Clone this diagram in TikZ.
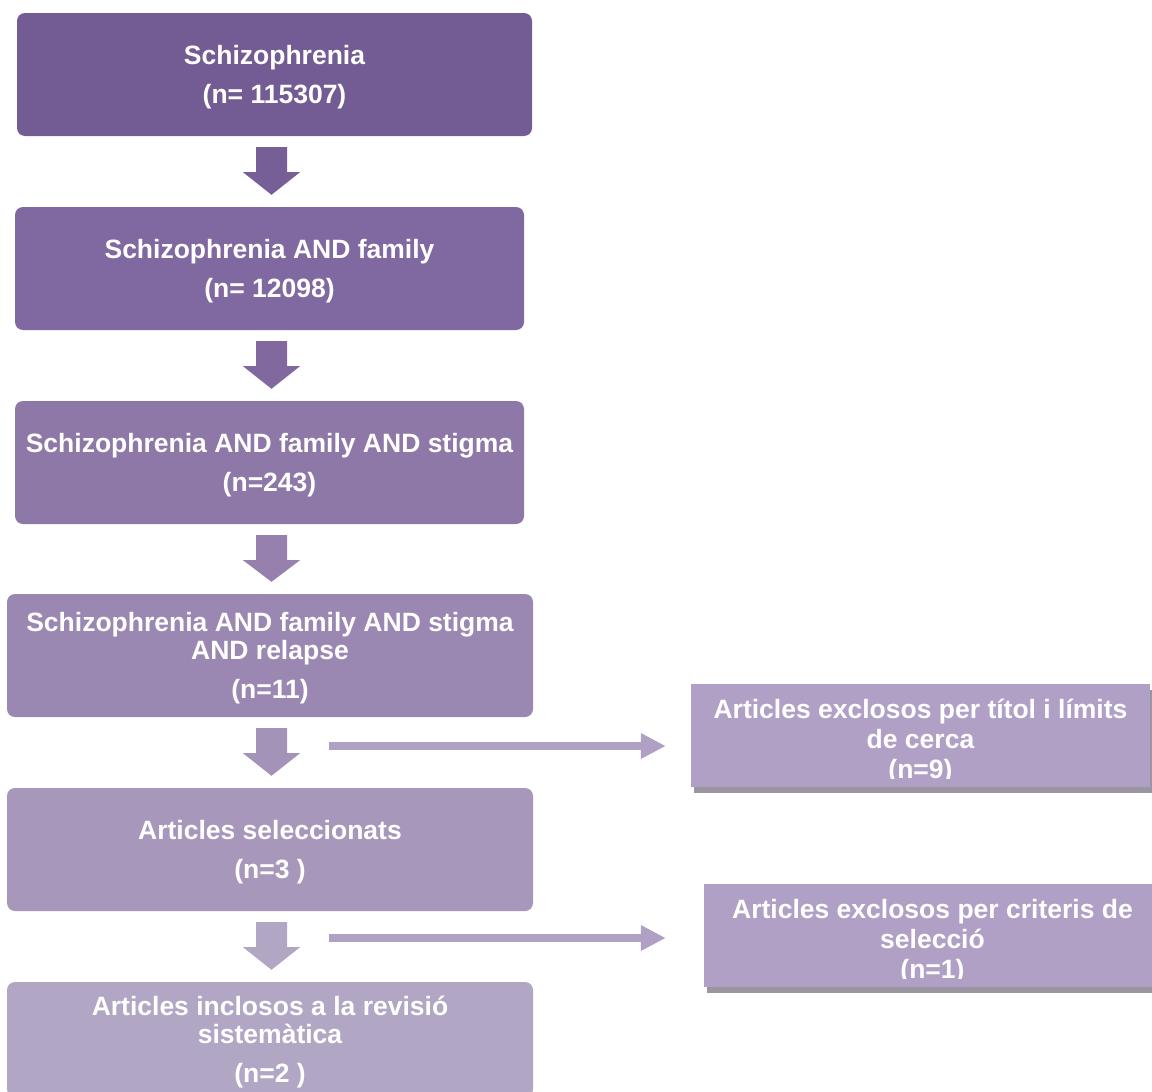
\documentclass[tikz,border=0pt]{standalone}
\usepackage{fontspec}
\setmainfont{Liberation Sans}
\usetikzlibrary{calc,arrows.meta,shadows}
\definecolor{bA}{HTML}{735B93}
\definecolor{bB}{HTML}{8068A0}
\definecolor{bC}{HTML}{8D78A8}
\definecolor{bD}{HTML}{9A87B2}
\definecolor{bE}{HTML}{A797BB}
\definecolor{bF}{HTML}{B2A6C5}
\definecolor{aA}{HTML}{765E96}
\definecolor{aB}{HTML}{8169A0}
\definecolor{aC}{HTML}{9580AE}
\definecolor{aD}{HTML}{A493B9}
\definecolor{aE}{HTML}{B2A6C5}
\definecolor{sideC}{HTML}{B0A0C6}
\definecolor{shC}{HTML}{9B95A2}
\newcommand\blockarr[3]{\fill[#3] let \p1=(#1.south), \p2=(#2.north) in
  (256pt,\y1-11pt) -- (287pt,\y1-11pt) -- (287pt,\y1-36pt) -- (300pt,\y1-36pt)
  -- (271.5pt,\y2+12pt) -- (243pt,\y1-36pt) -- (256pt,\y1-36pt) -- cycle;}
\newcommand\topstrut{\rule{0pt}{25pt}}
\begin{document}
\begin{tikzpicture}[x=1pt,y=-1pt,
  txt/.style={text=white, align=center, font=\fontsize{26.5}{28}\selectfont\bfseries},
  mainbox/.style={txt, rounded corners=8pt, minimum height=123pt, inner sep=0pt},
  sidebox/.style={fill=sideC, minimum height=103pt, inner sep=0pt,
    general shadow={fill=shC, shadow xshift=3pt, shadow yshift=-6pt}},
  sidetxt/.style={txt, font=\fontsize{26.5}{30}\selectfont\bfseries, inner sep=0pt},
  sidearr/.style={draw=sideC, line width=8pt, -{Triangle[length=25pt,width=24pt]}}]
\clip (0,0) rectangle (1152,1092);
\fill[white] (0,0) rectangle (1152,1092);
% main boxes
\node[mainbox, fill=bA, minimum width=515pt] (b1) at (274.5,74.5) {\topstrut Schizophrenia\\[11pt](n= 115307)};
\node[mainbox, fill=bB, minimum width=509pt] (b2) at (269.5,268.5) {\topstrut Schizophrenia AND family\\[11pt](n= 12098)};
\node[mainbox, fill=bC, minimum width=509pt] (b3) at (269.5,462.5) {\topstrut Schizophrenia AND family AND stigma\\[11pt](n=243)};
\node[mainbox, fill=bD, minimum width=526pt] (b4) at (270,655.5) {\topstrut Schizophrenia AND family AND stigma\\AND relapse\\[11pt](n=11)};
\node[mainbox, fill=bE, minimum width=526pt] (b5) at (270,849.5) {\topstrut Articles seleccionats\\[11pt](n=3 )};
\node[mainbox, fill=bF, minimum width=526pt, minimum height=115pt] (b6) at (270,1039.5) {\topstrut Articles inclosos a la revisió\\sistemàtica\\[11pt](n=2 )};
% block arrows
\blockarr{b1}{b2}{aA}
\blockarr{b2}{b3}{aB}
\blockarr{b3}{b4}{aC}
\blockarr{b4}{b5}{aD}
\blockarr{b5}{b6}{aE}
% side boxes
\node[sidebox, minimum width=459pt] (s1) at (920.5,735.5) {};
\begin{scope}
\clip (691,684) rectangle (1150,778);
\node[sidetxt] (t1) at (920.5,742) {Articles exclosos per títol i límits\\de cerca\\(n=9)};
\end{scope}
\node[sidebox, minimum width=457pt] (s2) at (932.5,935) {};
\begin{scope}
\clip (704,883) rectangle (1161,978);
\node[sidetxt] (t2) at (932.5,942) {Articles exclosos per criteris de\\selecció\\(n=1)};
\end{scope}
% side arrows
\coordinate (a1) at (329,746);
\coordinate (a2) at (329,938);
\draw[sidearr, shorten >=25pt] (a1) -- (a1 -| s1.west);
\draw[sidearr, shorten >=38pt] (a2) -- (a2 -| s2.west);
\end{tikzpicture}
\end{document}
